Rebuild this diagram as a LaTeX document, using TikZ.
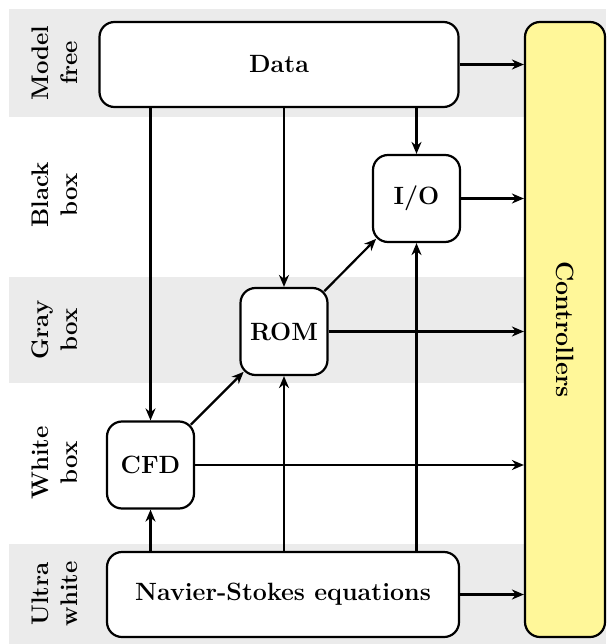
\documentclass[tikz,border=0pt]{standalone}
\usepackage{tikz}
\usetikzlibrary{arrows.meta,positioning,calc}
\definecolor{bandgray}{RGB}{235,235,235}
\definecolor{ctrlyellow}{RGB}{255,247,153}

\begin{document}
\begin{tikzpicture}[x=1pt, y=-1pt, line width=2.2pt,
  box/.style={draw, rounded corners=15pt, fill=white, inner sep=0pt, font=\fontsize{25}{29}\selectfont\bfseries},
  small/.style={box, minimum width=87pt, minimum height=87pt},
  level/.style={rotate=90, align=center, font=\fontsize{24}{29}\selectfont\bfseries},
  flow/.style={-{Stealth[length=12pt,width=10pt]}}]
\useasboundingbox (0,0) rectangle (606,644);
% Gray bands
\foreach \t/\b in {9/117, 277/383, 544/644}
  \fill[bandgray] (9,\t) rectangle (606,\b);
% Level labels
\node[level] (lmf) at (55,63) {Model\\free};
\node[level] (lbb) at (55,195) {Black\\box};
\node[level] (lgb) at (55,330) {Gray\\box};
\node[level] (lwb) at (55,463) {White\\box};
\node[level] (luw) at (55,594) {Ultra\\white};
% Boxes
\node[box, minimum width=359pt, minimum height=85pt] (data) at (279,64.5) {Data};
\node[box, minimum width=352pt, minimum height=85pt] (ns) at (283,594.5) {Navier-Stokes equations};
\node[small] (cfd) at (150.5,465) {CFD};
\node[small] (rom) at (284,331.5) {ROM};
\node[small] (io) at (416.5,198.5) {I/O};
\node[box, fill=ctrlyellow, minimum width=80pt, minimum height=615pt] (ctrl) at (565,329.5) {\rotatebox{-90}{Controllers}};
% Vertical arrows
\foreach \n in {cfd, rom, io} {
  \draw[flow] (data.south -| \n) -- (\n);
  \draw[flow] (ns.north -| \n) -- (\n);
}
% Diagonal arrows
\draw[flow, shorten <=-6pt, shorten >=-6pt] (cfd.north east) -- (rom.south west);
\draw[flow, shorten <=-6pt, shorten >=-6pt] (rom.north east) -- (io.south west);
% To controllers
\foreach \n in {data, io, rom, cfd, ns}
  \draw[flow] (\n.east) -- (\n.east -| ctrl.west);
\end{tikzpicture}
\end{document}
